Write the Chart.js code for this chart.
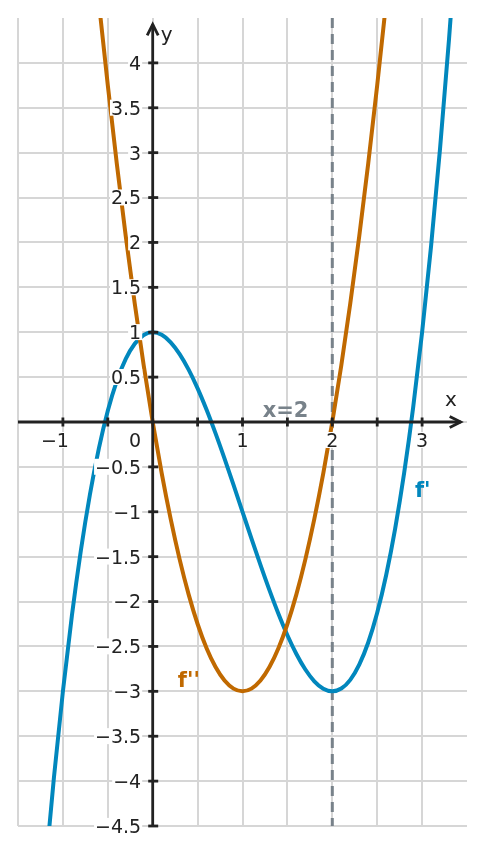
<!DOCTYPE html>
<html>
<head>
<meta charset="utf-8">
<script src="https://cdn.jsdelivr.net/npm/chart.js@4.4.1/dist/chart.umd.min.js"></script>
<style>
  html, body { margin: 0; padding: 0; background: #fff; }
  #wrap { width: 484px; height: 854px; position: relative; }
</style>
</head>
<body>
<div id="wrap"><canvas id="myChart"></canvas></div>
<script>
// values
var fPrimeX = [-1.2, -1.1, -1.0, -0.9, -0.8, -0.7, -0.6, -0.5, -0.4, -0.3, -0.2, -0.1, 0,
  0.1, 0.2, 0.3, 0.4, 0.5, 0.6, 0.7, 0.8, 0.9, 1.0, 1.1, 1.2, 1.3, 1.4, 1.5, 1.6, 1.7,
  1.8, 1.9, 2.0, 2.1, 2.2, 2.3, 2.4, 2.5, 2.6, 2.7, 2.8, 2.9, 3.0, 3.1, 3.2, 3.3, 3.4];
var fPrimeY = [-5.048, -3.961, -3, -2.159, -1.432, -0.813, -0.296, 0.125, 0.456, 0.703, 0.872, 0.969, 1,
  0.971, 0.888, 0.757, 0.584, 0.375, 0.136, -0.127, -0.408, -0.701, -1, -1.299, -1.592, -1.873, -2.136, -2.375, -2.584, -2.757,
  -2.888, -2.971, -3, -2.969, -2.872, -2.703, -2.456, -2.125, -1.704, -1.187, -0.568, 0.159, 1, 1.961, 3.048, 4.267, 5.624];

var fSecondX = [-0.7, -0.6, -0.5, -0.4, -0.3, -0.2, -0.1, 0, 0.1, 0.2, 0.3, 0.4, 0.5, 0.6, 0.7, 0.8, 0.9,
  1.0, 1.1, 1.2, 1.3, 1.4, 1.5, 1.6, 1.7, 1.8, 1.9, 2.0, 2.1, 2.2, 2.3, 2.4, 2.5, 2.6, 2.7];
var fSecondY = [5.67, 4.68, 3.75, 2.88, 2.07, 1.32, 0.63, 0, -0.57, -1.08, -1.53, -1.92, -2.25, -2.52, -2.73, -2.88, -2.97,
  -3, -2.97, -2.88, -2.73, -2.52, -2.25, -1.92, -1.53, -1.08, -0.57, 0, 0.63, 1.32, 2.07, 2.88, 3.75, 4.68, 5.67];

var markerX = [2, 2];
var markerY = [4.5, -4.5];

var xTickValues = [-1, 1, 2, 3];
var xTickLabels = ['−1', '1', '2', '3'];
var yTickValues = [4, 3.5, 3, 2.5, 2, 1.5, 1, 0.5, -0.5, -1, -1.5, -2, -2.5, -3, -3.5, -4, -4.5];
var yTickLabels = ['4', '3.5', '3', '2.5', '2', '1.5', '1', '0.5', '−0.5', '−1', '−1.5', '−2', '−2.5', '−3', '−3.5', '−4', '−4.5'];

var BLUE = '#0187bd';
var ORANGE = '#c06900';
var GREY = '#78828a';
var INK = '#222222';
var FONT = '"DejaVu Sans", sans-serif';

function pts(xs, ys) {
  return xs.map(function (v, i) { return {x: v, y: ys[i]}; });
}

function boxedText(ctx, text, px, py, align) {
  ctx.textAlign = align;
  ctx.textBaseline = 'alphabetic';
  var m = ctx.measureText(text);
  var w = m.width;
  var left = align === 'right' ? px - w : (align === 'center' ? px - w / 2 : px);
  var asc = m.actualBoundingBoxAscent, desc = m.actualBoundingBoxDescent;
  ctx.fillStyle = '#fff';
  ctx.fillRect(left - 1, py - asc - 1, w + 2, asc + desc + 2);
  ctx.fillStyle = INK;
  ctx.fillText(text, px, py);
}

var mathAxes = {
  id: 'mathAxes',
  afterDatasetsDraw: function (chart) {
    var ctx = chart.ctx, xs = chart.scales.x, ys = chart.scales.y, area = chart.chartArea;
    var x0 = xs.getPixelForValue(0), y0 = ys.getPixelForValue(0);
    ctx.save();
    ctx.strokeStyle = INK;
    ctx.lineWidth = 2.8;

    // x axis + arrow
    var xTip = xs.getPixelForValue(3.43);
    ctx.beginPath();
    ctx.moveTo(area.left, y0);
    ctx.lineTo(xTip, y0);
    ctx.stroke();
    ctx.beginPath();
    ctx.moveTo(xTip - 11, y0 - 5.5);
    ctx.lineTo(xTip, y0);
    ctx.lineTo(xTip - 11, y0 + 5.5);
    ctx.stroke();

    // y axis + arrow
    var yTip = ys.getPixelForValue(4.43);
    ctx.beginPath();
    ctx.moveTo(x0, ys.getPixelForValue(-4.5));
    ctx.lineTo(x0, yTip);
    ctx.stroke();
    ctx.beginPath();
    ctx.moveTo(x0 - 5.5, yTip + 11);
    ctx.lineTo(x0, yTip);
    ctx.lineTo(x0 + 5.5, yTip + 11);
    ctx.stroke();

    // tick marks every 0.5
    ctx.lineWidth = 2.8;
    xs.ticks.forEach(function (t) {
      if (t.value === 0 || t.value <= -1.5 || t.value >= 3.5) return;
      var p = xs.getPixelForValue(t.value);
      ctx.beginPath();
      ctx.moveTo(p, y0 - 4.5);
      ctx.lineTo(p, y0 + 4.5);
      ctx.stroke();
    });
    ys.ticks.forEach(function (t) {
      if (t.value === 0 || t.value >= 4.5) return;
      var p = ys.getPixelForValue(t.value);
      ctx.beginPath();
      ctx.moveTo(x0 - 4.5, p);
      ctx.lineTo(x0 + 5.5, p);
      ctx.stroke();
    });

    // tick labels
    ctx.font = '19px ' + FONT;
    yTickValues.forEach(function (v, i) {
      boxedText(ctx, yTickLabels[i], x0 - 11.5, ys.getPixelForValue(v) + 6.9, 'right');
    });
    xTickValues.forEach(function (v, i) {
      var lab = xTickLabels[i];
      var p = xs.getPixelForValue(v);
      if (lab.charAt(0) === '−') {
        var w = ctx.measureText(lab.slice(1)).width;
        boxedText(ctx, lab, p + w / 2, y0 + 25, 'right');
      } else {
        boxedText(ctx, lab, p, y0 + 25, 'center');
      }
    });
    boxedText(ctx, '0', x0 - 11.5, y0 + 25, 'right');

    // axis names
    ctx.font = '20px ' + FONT;
    ctx.fillStyle = INK;
    ctx.textBaseline = 'alphabetic';
    ctx.textAlign = 'center';
    ctx.fillText('x', xs.getPixelForValue(3.32), ys.getPixelForValue(0.18));
    ctx.textAlign = 'left';
    ctx.fillText('y', xs.getPixelForValue(0.09), ys.getPixelForValue(4.24));

    // annotations
    ctx.font = 'bold 21px ' + FONT;
    ctx.fillStyle = GREY;
    ctx.textAlign = 'center';
    ctx.fillText('x=2', xs.getPixelForValue(1.48), ys.getPixelForValue(0.055));
    ctx.textAlign = 'left';
    ctx.fillStyle = BLUE;
    ctx.fillText("f'", xs.getPixelForValue(2.92), ys.getPixelForValue(-0.835));
    ctx.fillStyle = ORANGE;
    ctx.fillText("f''", xs.getPixelForValue(0.28), ys.getPixelForValue(-2.95));
    ctx.restore();
  }
};

var gridColor = '#d6d6d6';

var ctx = document.getElementById('myChart');
var myChart = new Chart(ctx, {
  type: 'line',
  data: {
    datasets: [
      {
        label: "f''",
        data: pts(fSecondX, fSecondY),
        borderColor: ORANGE,
        borderWidth: 4,
        pointRadius: 0,
        cubicInterpolationMode: 'monotone',
        clip: 0,
        order: 0
      },
      {
        label: "f'",
        data: pts(fPrimeX, fPrimeY),
        borderColor: BLUE,
        borderWidth: 4,
        pointRadius: 0,
        cubicInterpolationMode: 'monotone',
        clip: 0,
        order: 1
      },
      {
        label: 'x=2',
        data: pts(markerX, markerY),
        borderColor: GREY,
        borderWidth: 3,
        borderDash: [10, 6],
        pointRadius: 0,
        clip: 0,
        order: 2
      }
    ]
  },
  options: {
    responsive: true,
    maintainAspectRatio: false,
    animation: false,
    layout: { padding: { left: 18, right: 17, top: 18, bottom: 28 } },
    plugins: { legend: { display: false }, tooltip: { enabled: false } },
    scales: {
      x: {
        type: 'linear',
        min: -1.5,
        max: 3.5,
        ticks: { stepSize: 0.5, display: false },
        border: { display: false },
        grid: {
          drawTicks: false,
          lineWidth: 2,
          color: function (c) { return c.tick && c.tick.value >= 3.5 ? 'rgba(0,0,0,0)' : gridColor; }
        }
      },
      y: {
        type: 'linear',
        min: -4.5,
        max: 4.5,
        ticks: { stepSize: 0.5, display: false },
        border: { display: false },
        grid: {
          drawTicks: false,
          lineWidth: 2,
          color: function (c) { return c.tick && c.tick.value >= 4.5 ? 'rgba(0,0,0,0)' : gridColor; }
        }
      }
    }
  },
  plugins: [mathAxes]
});
</script>
</body>
</html>
